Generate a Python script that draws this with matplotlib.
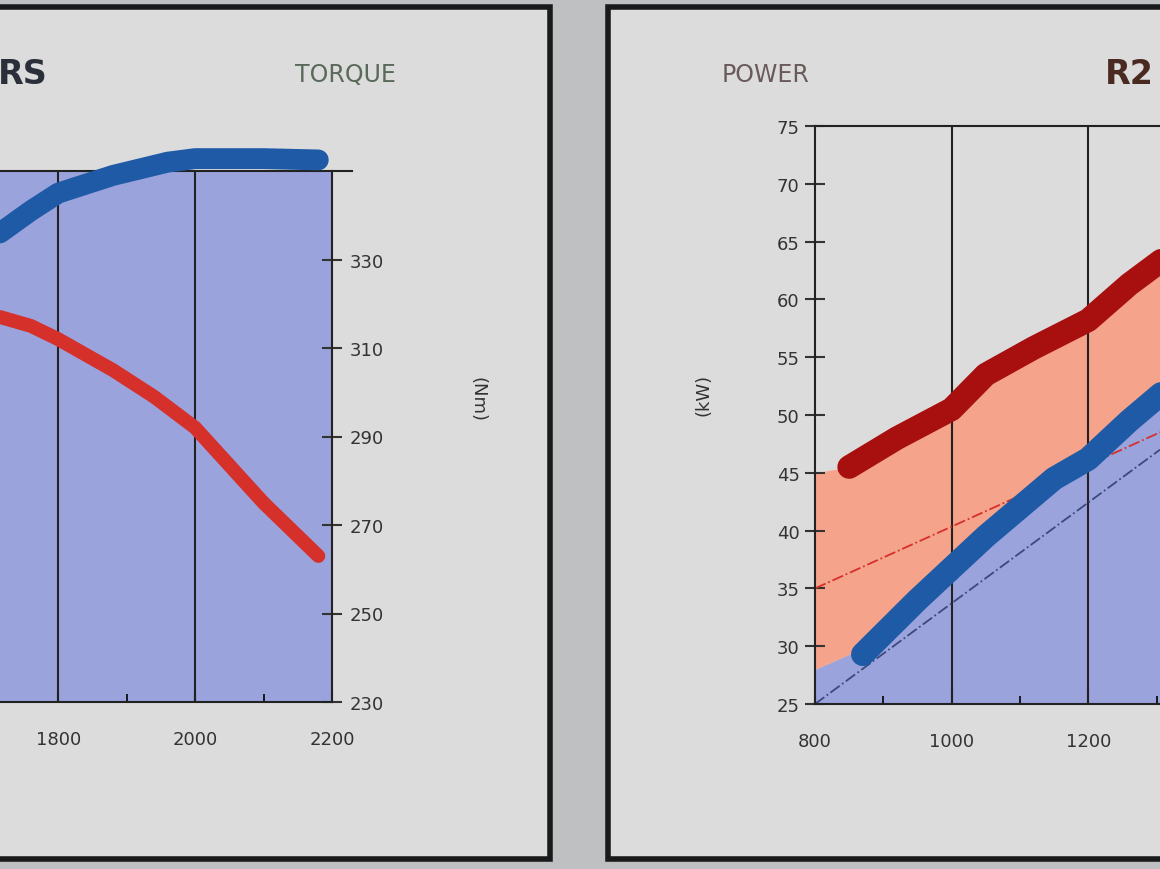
import matplotlib
matplotlib.use("Agg")
import matplotlib.pyplot as plt
from matplotlib.patches import Rectangle

W, H = 1160, 870
# Left (torque) data
tq_rpm = [1715, 1760, 1800, 1880, 1960, 2000, 2100, 2180]
tq_blue = [336, 341, 345, 349, 352, 352.8, 352.8, 352.5]
tq_red_rpm = [1715, 1760, 1800, 1880, 1940, 2000, 2100, 2180]
tq_red = [317, 315, 312, 305, 299, 292, 275, 263]
# Right (power) data
pw_rpm_red = [850, 920, 1000, 1050, 1120, 1200, 1260, 1310]
pw_red = [45.5, 48, 50.5, 53.5, 55.8, 58.2, 61.3, 63.5]
pw_rpm_blue = [870, 950, 1050, 1150, 1200, 1260, 1310]
pw_blue = [29.3, 34, 39.5, 44.5, 46.2, 49.5, 52]
fill_rpm = [800, 850, 870, 950, 1000, 1050, 1120, 1200, 1260, 1310]
fill_top = [45, 45.5, 46.3, 49, 50.5, 53.5, 55.8, 58.2, 61.3, 63.5]
fill_bot = [28, 29.3, 29.3, 34, 36.7, 39.5, 43, 46.2, 49.5, 52]

fig = plt.figure(figsize=(W/100, H/100), dpi=100)
fig.patch.set_facecolor("#bfc0c2")
def px(x0, y0, x1, y1):
    return [x0/W, 1-y1/H, (x1-x0)/W, (y1-y0)/H]

bg = fig.add_axes([0, 0, 1, 1]); bg.set_xlim(0, W); bg.set_ylim(H, 0); bg.axis("off")
bg.add_patch(Rectangle((-10, 8), 560, 852, facecolor="#dcdcdd", edgecolor="#1a1a1a", lw=4))
bg.add_patch(Rectangle((608, 8), 600, 852, facecolor="#dcdcdd", edgecolor="#1a1a1a", lw=4))
bg.text(-2, 75, "RS", fontsize=24, fontweight="bold", color="#2a2f3a", va="center")
bg.text(295, 75, "TORQUE", fontsize=17, color="#5a6a5a", va="center")
bg.text(722, 75, "POWER", fontsize=17, color="#6a5a5a", va="center")
bg.text(1105, 75, "R2", fontsize=24, fontweight="bold", color="#4a2a20", va="center")
bg.text(478, 400, "(Nm)", fontsize=13, rotation=-90, ha="center", va="center", color="#333")
bg.text(703, 395, "(kW)", fontsize=13, rotation=90, ha="center", va="center", color="#333")
bg.add_patch(Rectangle((1150, 545), 30, 135, facecolor="white", edgecolor="black", lw=1.5, zorder=5))

fs = 13
# Left axes
a = fig.add_axes(px(0, 172, 332, 703))
a.set_xlim(1715, 2200); a.set_ylim(230, 350)
a.set_facecolor("#9ba3dd")
for s in ["left", "top"]: a.spines[s].set_visible(False)
a.spines["right"].set_color("#222"); a.spines["bottom"].set_color("#222")
a.spines["right"].set_linewidth(1.5); a.spines["bottom"].set_linewidth(1.5)
a.axhline(350, color="#222", lw=1.5, xmax=1.06, clip_on=False)
a.yaxis.tick_right()
a.set_yticks([230, 250, 270, 290, 310, 330])
a.set_xticks([1800, 2000, 2200]); a.set_xticks([1900, 2100], minor=True)
a.tick_params(axis="x", direction="in", length=8, width=1.5, labelsize=fs, colors="#333", pad=20)
a.tick_params(axis="x", which="minor", direction="in", length=6, width=1.2)
a.tick_params(axis="y", direction="inout", length=14, width=1.5, labelsize=fs, colors="#333", pad=6)
for v in [1800, 2000]: a.axvline(v, color="#222", lw=1.5)
a.plot(tq_rpm, tq_blue, color="#1f5aa6", lw=15, solid_capstyle="round", clip_on=False)
a.plot(tq_red_rpm, tq_red, color="#d6302b", lw=10, solid_capstyle="round")

# Right axes
b = fig.add_axes(px(815, 127, 1160, 705))
b.set_xlim(800, 1305); b.set_ylim(25, 75)
b.set_facecolor("#dcdcdd")
for s in ["right"]: b.spines[s].set_visible(False)
for s in ["left", "bottom", "top"]:
    b.spines[s].set_color("#222"); b.spines[s].set_linewidth(1.5)
b.fill_between(fill_rpm, 25, fill_bot, color="#9ba3dd", lw=0)
b.fill_between(fill_rpm, fill_bot, fill_top, color="#f5a38a", lw=0)
b.set_yticks(range(25, 80, 5)); b.set_xticks([800, 1000, 1200])
b.set_xticks([900, 1100, 1300], minor=True)
b.tick_params(axis="y", direction="inout", length=14, width=1.5, labelsize=fs, colors="#333", pad=4)
b.tick_params(axis="x", direction="in", length=8, width=1.5, labelsize=fs, colors="#333", pad=20)
b.tick_params(axis="x", which="minor", direction="in", length=6, width=1.2)
for v in [1000, 1200]: b.axvline(v, color="#222", lw=1.5)
b.plot([800, 1305], [35, 48.5], color="#d6302b", lw=1.3, ls="-.")
b.plot([800, 1305], [25, 47], color="#3a4a7a", lw=1.3, ls="-.")
b.plot(pw_rpm_red, pw_red, color="#a80f0f", lw=17, solid_capstyle="round")
b.plot(pw_rpm_blue, pw_blue, color="#1f5aa6", lw=17, solid_capstyle="round")

fig.savefig("out.png", dpi=100, facecolor=fig.get_facecolor())
